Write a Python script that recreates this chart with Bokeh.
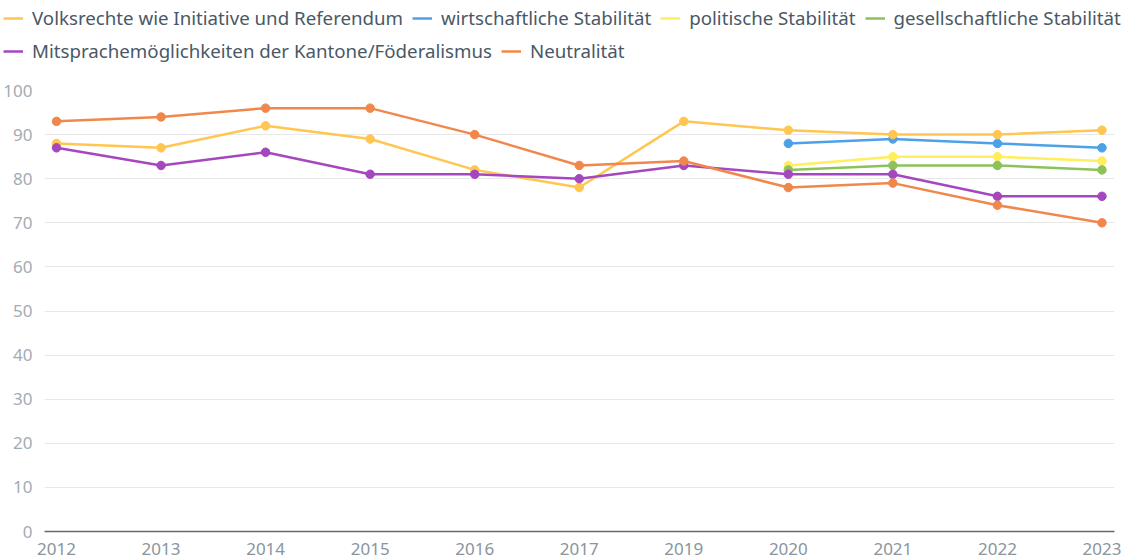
from bokeh.plotting import figure
from bokeh.models import Legend, LegendItem, FixedTicker, Range1d
from bokeh.embed import file_html
from bokeh.resources import INLINE

years = ["2012", "2013", "2014", "2015", "2016", "2017", "2019", "2020", "2021", "2022", "2023"]
volksrechte = [88, 87, 92, 89, 82, 78, 93, 91, 90, 90, 91]
wirtschaft = [None, None, None, None, None, None, None, 88, 89, 88, 87]
politisch = [None, None, None, None, None, None, None, 83, 85, 85, 84]
gesellschaft = [None, None, None, None, None, None, None, 82, 83, 83, 82]
mitsprache = [87, 83, 86, 81, 81, 80, 83, 81, 81, 76, 76]
neutralitaet = [93, 94, 96, 96, 90, 83, 84, 78, 79, 74, 70]

series = [
    ("Volksrechte wie Initiative und Referendum", volksrechte, "#FFC651"),
    ("wirtschaftliche Stabilität", wirtschaft, "#4BA2E8"),
    ("politische Stabilität", politisch, "#FFEE5E"),
    ("gesellschaftliche Stabilität", gesellschaft, "#8CC25A"),
    ("Mitsprachemöglichkeiten der Kantone/Föderalismus", mitsprache, "#A547BF"),
    ("Neutralität", neutralitaet, "#F0884C"),
]
draw_order = [1, 2, 3, 0, 4, 5]

FONT = "Noto Sans"
W = 1121
LEG_H = 78
MAIN_H = 480

# ---- legend strip (separate root so nothing is clipped) ----
lf = figure(width=W, height=LEG_H, output_backend="svg", toolbar_location=None,
            x_axis_location=None, y_axis_location=None,
            x_range=Range1d(0, 1), y_range=Range1d(0, 1),
            min_border=0)
lf.outline_line_color = None
lf.grid.grid_line_color = None
dummy = {}
for i, (name, vals, col) in enumerate(series):
    dummy[i] = [lf.line([float("nan")], [float("nan")], line_color=col, line_width=2.5)]

leg1 = Legend(items=[LegendItem(label=series[i][0], renderers=dummy[i]) for i in range(4)],
              orientation="horizontal", location=(3, 48))
leg2 = Legend(items=[LegendItem(label=series[i][0], renderers=dummy[i]) for i in range(4, 6)],
              orientation="horizontal", location=(3, 15))
for lg in (leg1, leg2):
    lg.label_text_font = FONT
    lg.label_text_font_size = "18.7px"
    lg.label_text_color = "#4a5866"
    lg.glyph_width = 20
    lg.glyph_height = 20
    lg.label_height = 20
    lg.label_standoff = 9
    lg.spacing = 9
    lg.padding = 0
    lg.margin = 0
    lg.border_line_color = None
    lg.background_fill_alpha = 0
lf.add_layout(leg1, "center")
lf.add_layout(leg2, "center")

# ---- main chart ----
p = figure(width=W, height=MAIN_H, output_backend="svg", toolbar_location=None,
           x_range=Range1d(-0.115, 10.12), y_range=Range1d(0, 100),
           min_border_left=37, min_border_right=7, min_border_bottom=27, min_border_top=12)
p.outline_line_color = None
p.background_fill_color = "white"

for i in draw_order:
    name, vals, col = series[i]
    xs = [k for k, v in enumerate(vals) if v is not None]
    ys = [v for v in vals if v is not None]
    p.line(xs, ys, line_color=col, line_width=2.5)
    p.scatter(xs, ys, size=8.5, fill_color=col, line_color=col)

p.xaxis.ticker = FixedTicker(ticks=list(range(len(years))))
p.xaxis.major_label_overrides = {k: y for k, y in enumerate(years)}
p.xaxis.axis_line_color = "#5b6b78"
p.xaxis.axis_line_width = 1.5
p.xaxis.major_tick_line_color = None
p.xaxis.minor_tick_line_color = None
p.xaxis.major_label_text_font = FONT
p.xaxis.major_label_text_font_size = "17px"
p.xaxis.major_label_text_color = "#8a949c"
p.xaxis.major_label_standoff = 5

p.yaxis.ticker = FixedTicker(ticks=list(range(0, 101, 10)))
p.yaxis.axis_line_color = None
p.yaxis.major_tick_line_color = None
p.yaxis.minor_tick_line_color = None
p.yaxis.major_label_text_font = FONT
p.yaxis.major_label_text_font_size = "17px"
p.yaxis.major_label_text_color = "#a3abb2"
p.yaxis.major_label_standoff = 6

p.xgrid.grid_line_color = None
p.ygrid.grid_line_color = "#e8e8e8"
p.ygrid.ticker = FixedTicker(ticks=list(range(10, 101, 10)))

open("out.html", "w").write(file_html([lf, p], INLINE))
